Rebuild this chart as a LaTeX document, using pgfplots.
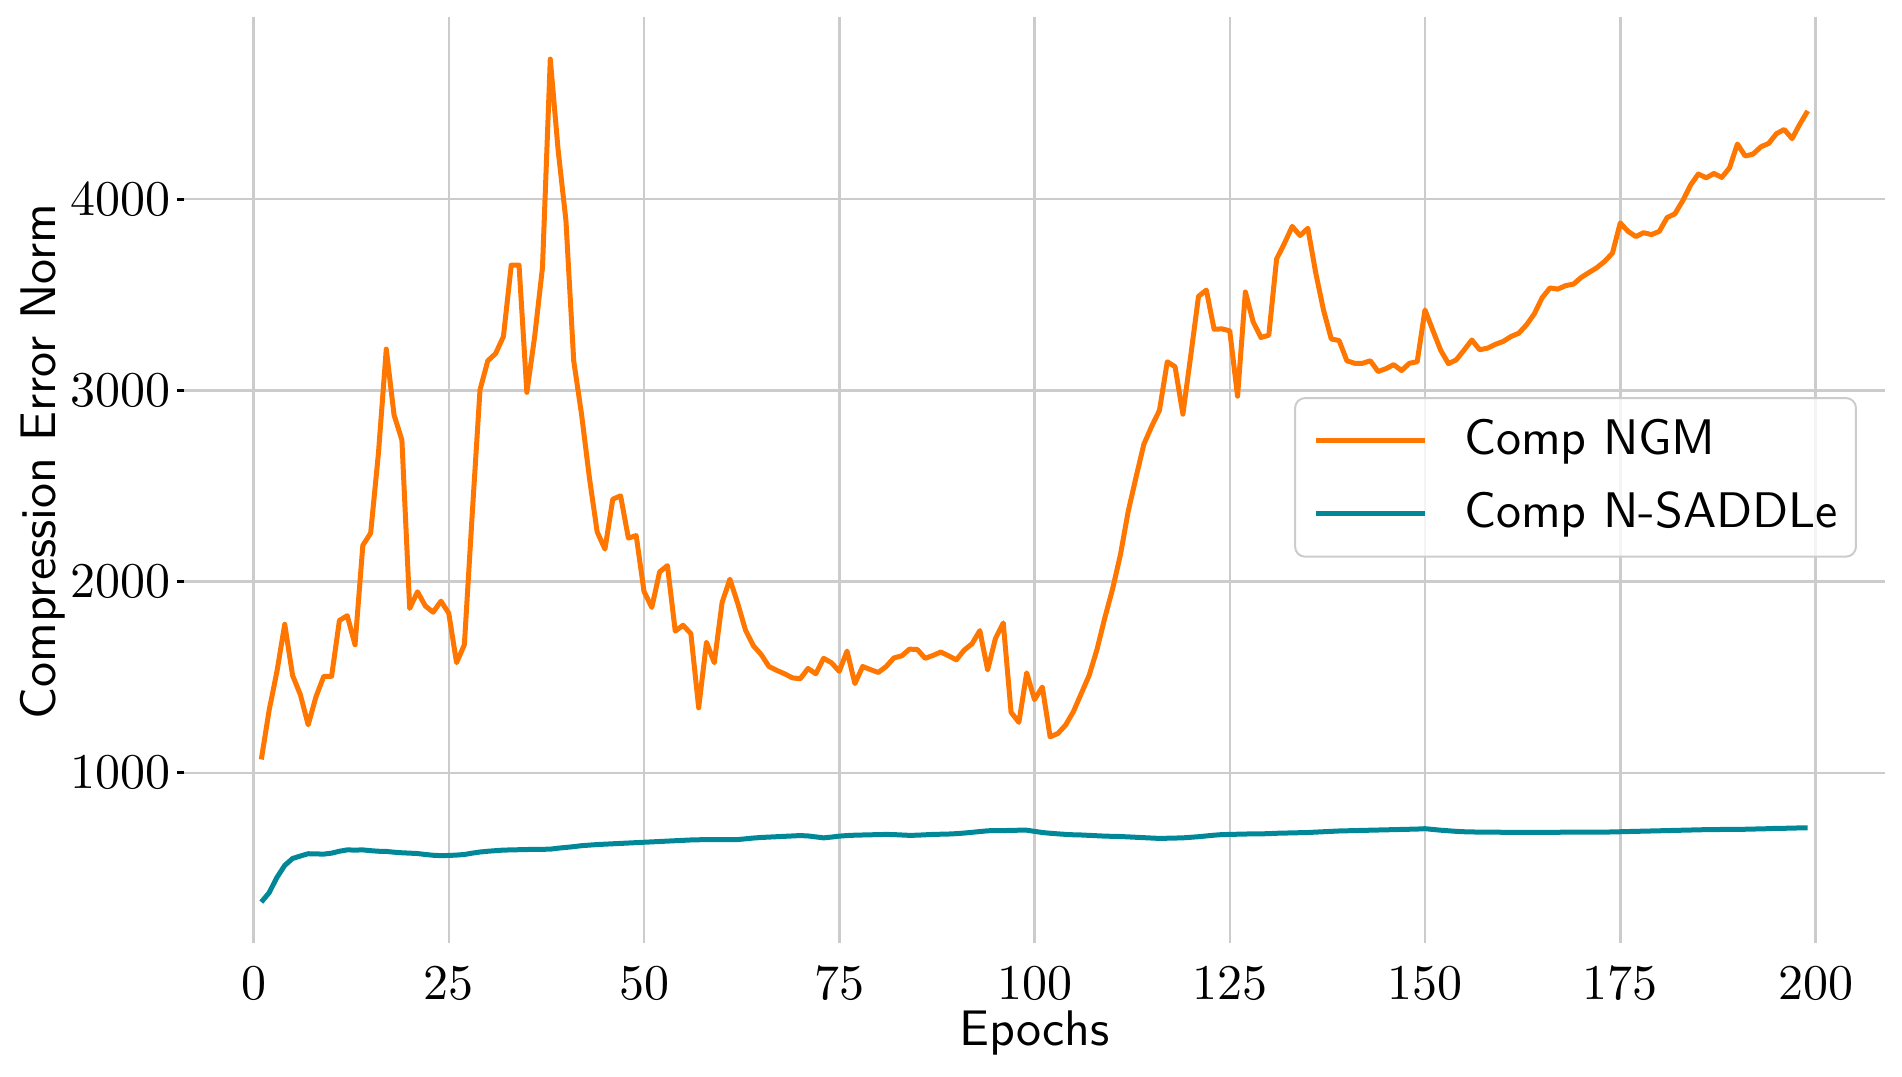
\documentclass[border=0pt]{standalone}
\usepackage{pgfplots}
\pgfplotsset{compat=1.18}
\definecolor{ngm}{RGB}{255,119,0}
\definecolor{sad}{RGB}{0,136,153}
\definecolor{gridc}{RGB}{204,204,204}
\begin{document}
\begin{tikzpicture}
\begin{axis}[
  at={(0,0)}, anchor=south west,
  width=340.2pt, height=185.2pt, scale only axis,
  xmin=-8.9, xmax=208.9, ymin=110, ymax=4953,
  xtick={0,25,...,200}, ytick={1000,2000,3000,4000},
  scaled ticks=false,
  /pgf/number format/1000 sep={},
  axis line style={draw=none},
  grid=major, major grid style={gridc, line width=0.5pt},
  tick align=outside, major tick length=1.4pt,
  xtick style={draw=none}, ytick pos=left,
  ytick style={black, line width=0.6pt},
  yticklabel style={xshift=2.2pt},
  label style={font=\sffamily},
  xlabel={Epochs}, ylabel={Compression Error Norm},
  xlabel style={at={(rel axis cs:0.5,-0.097)}, anchor=center},
  ylabel style={at={(rel axis cs:-0.083,0.52)}, anchor=center},
  legend style={at={(rel axis cs:0.9835,0.5896)}, anchor=north east,
    draw=gridc, rounded corners=2pt, fill=white, fill opacity=0.8, text opacity=1,
    font=\sffamily, inner xsep=3.6pt, inner ysep=4.3pt,
    nodes={inner sep=0pt}, row sep=5.9pt,
    /tikz/every odd column/.append style={column sep=7.4pt}},
  legend cell align=left,
  legend image code/.code={\draw[#1] (0pt,0pt) -- (21.8pt,0pt);},
]
\addplot[ngm, line width=1pt, line join=round] coordinates {
(1,1070)(2,1327)(3,1530)(4,1777)(5,1510)(6,1409)(7,1251)(8,1398)(9,1505)(10,1505)
(11,1797)(12,1822)(13,1670)(14,2190)(15,2254)(16,2673)(17,3216)(18,2871)(19,2741)(20,1860)
(21,1947)(22,1873)(23,1840)(24,1898)(25,1835)(26,1576)(27,1670)(28,2350)(29,3003)(30,3155)
(31,3193)(32,3282)(33,3655)(34,3655)(35,2990)(36,3282)(37,3642)(38,4733)(39,4259)(40,3891)
(41,3155)(42,2876)(43,2546)(44,2261)(45,2170)(46,2431)(47,2449)(48,2228)(49,2241)(50,1949)
(51,1865)(52,2051)(53,2084)(54,1741)(55,1772)(56,1728)(57,1340)(58,1683)(59,1576)(60,1891)
(61,2013)(62,1886)(63,1746)(64,1665)(65,1619)(66,1556)(67,1536)(68,1518)(69,1497)(70,1492)
(71,1546)(72,1518)(73,1599)(74,1576)(75,1531)(76,1637)(77,1467)(78,1556)(79,1540)(80,1525)
(81,1556)(82,1601)(83,1612)(84,1647)(85,1645)(86,1599)(87,1614)(88,1632)(89,1612)(90,1591)
(91,1642)(92,1675)(93,1744)(94,1538)(95,1703)(96,1784)(97,1317)(98,1264)(99,1523)(100,1383)
(101,1449)(102,1188)(103,1206)(104,1251)(105,1322)(106,1416)(107,1510)(108,1645)(109,1810)(110,1962)
(111,2140)(112,2368)(113,2546)(114,2718)(115,2812)(116,2896)(117,3150)(118,3124)(119,2876)(120,3180)
(121,3492)(122,3525)(123,3320)(124,3322)(125,3312)(126,2970)(127,3515)(128,3358)(129,3277)(130,3289)
(131,3688)(132,3769)(133,3858)(134,3810)(135,3848)(136,3617)(137,3421)(138,3269)(139,3261)(140,3155)
(141,3142)(142,3142)(143,3155)(144,3099)(145,3114)(146,3135)(147,3104)(148,3142)(149,3150)(150,3421)
(151,3315)(152,3211)(153,3140)(154,3160)(155,3211)(156,3264)(157,3213)(158,3221)(159,3241)(160,3256)
(161,3282)(162,3299)(163,3343)(164,3401)(165,3485)(166,3536)(167,3530)(168,3548)(169,3556)(170,3591)
(171,3617)(172,3642)(173,3675)(174,3718)(175,3876)(176,3832)(177,3805)(178,3825)(179,3815)(180,3832)
(181,3904)(182,3924)(183,3992)(184,4074)(185,4132)(186,4112)(187,4135)(188,4114)(189,4165)(190,4289)
(191,4226)(192,4236)(193,4274)(194,4292)(195,4343)(196,4365)(197,4317)(198,4393)(199,4462)
};
\addlegendentry{Comp NGM}
\addplot[sad, line width=1pt, line join=round] coordinates {
(1,324)(2,373)(3,453)(4,516)(5,552)(6,565)(7,577)(8,576)(9,575)(10,580)
(11,590)(12,597)(13,596)(14,597)(15,593)(16,590)(17,589)(18,585)(19,582)(20,580)
(21,578)(22,573)(23,569)(24,567)(25,568)(26,570)(27,573)(28,580)(29,586)(30,590)
(31,593)(32,596)(33,597)(34,598)(35,599)(36,600)(37,600)(38,601)(39,606)(40,610)
(41,614)(42,619)(43,622)(44,625)(45,627)(46,629)(47,631)(48,633)(49,635)(50,637)
(51,639)(52,641)(53,643)(54,645)(55,647)(56,649)(57,650)(58,651)(59,651)(60,651)
(61,651)(62,651)(63,655)(64,659)(65,662)(66,664)(67,666)(68,668)(69,670)(70,672)
(71,670)(72,665)(73,660)(74,664)(75,669)(76,672)(77,674)(78,675)(79,676)(80,677)
(81,678)(82,677)(83,675)(84,673)(85,674)(86,676)(87,678)(88,679)(89,680)(90,682)
(91,685)(92,689)(93,693)(94,697)(95,698)(96,698)(97,699)(98,700)(99,700)(100,694)
(101,688)(102,684)(103,681)(104,678)(105,676)(106,675)(107,673)(108,671)(109,669)(110,668)
(111,667)(112,665)(113,663)(114,661)(115,659)(116,657)(117,658)(118,659)(119,660)(120,663)
(121,666)(122,670)(123,674)(124,677)(125,678)(126,679)(127,680)(128,681)(129,681)(130,682)
(131,684)(132,685)(133,686)(134,687)(135,688)(136,690)(137,692)(138,694)(139,696)(140,697)
(141,698)(142,699)(143,700)(144,701)(145,702)(146,703)(147,704)(148,705)(149,706)(150,708)
(151,704)(152,700)(153,697)(154,694)(155,692)(156,691)(157,690)(158,690)(159,690)(160,689)
(161,689)(162,689)(163,689)(164,689)(165,689)(166,689)(167,689)(168,690)(169,690)(170,690)
(171,690)(172,690)(173,690)(174,691)(175,692)(176,693)(177,694)(178,695)(179,696)(180,697)
(181,698)(182,699)(183,700)(184,701)(185,702)(186,703)(187,703)(188,704)(189,704)(190,705)
(191,705)(192,706)(193,707)(194,708)(195,710)(196,710)(197,711)(198,712)(199,712)
};
\addlegendentry{Comp N-SADDLe}
\end{axis}
\pgfresetboundingbox
\useasboundingbox (-36.8pt,-26.6pt) rectangle (343.6pt,188.6pt);
\end{tikzpicture}
\end{document}
